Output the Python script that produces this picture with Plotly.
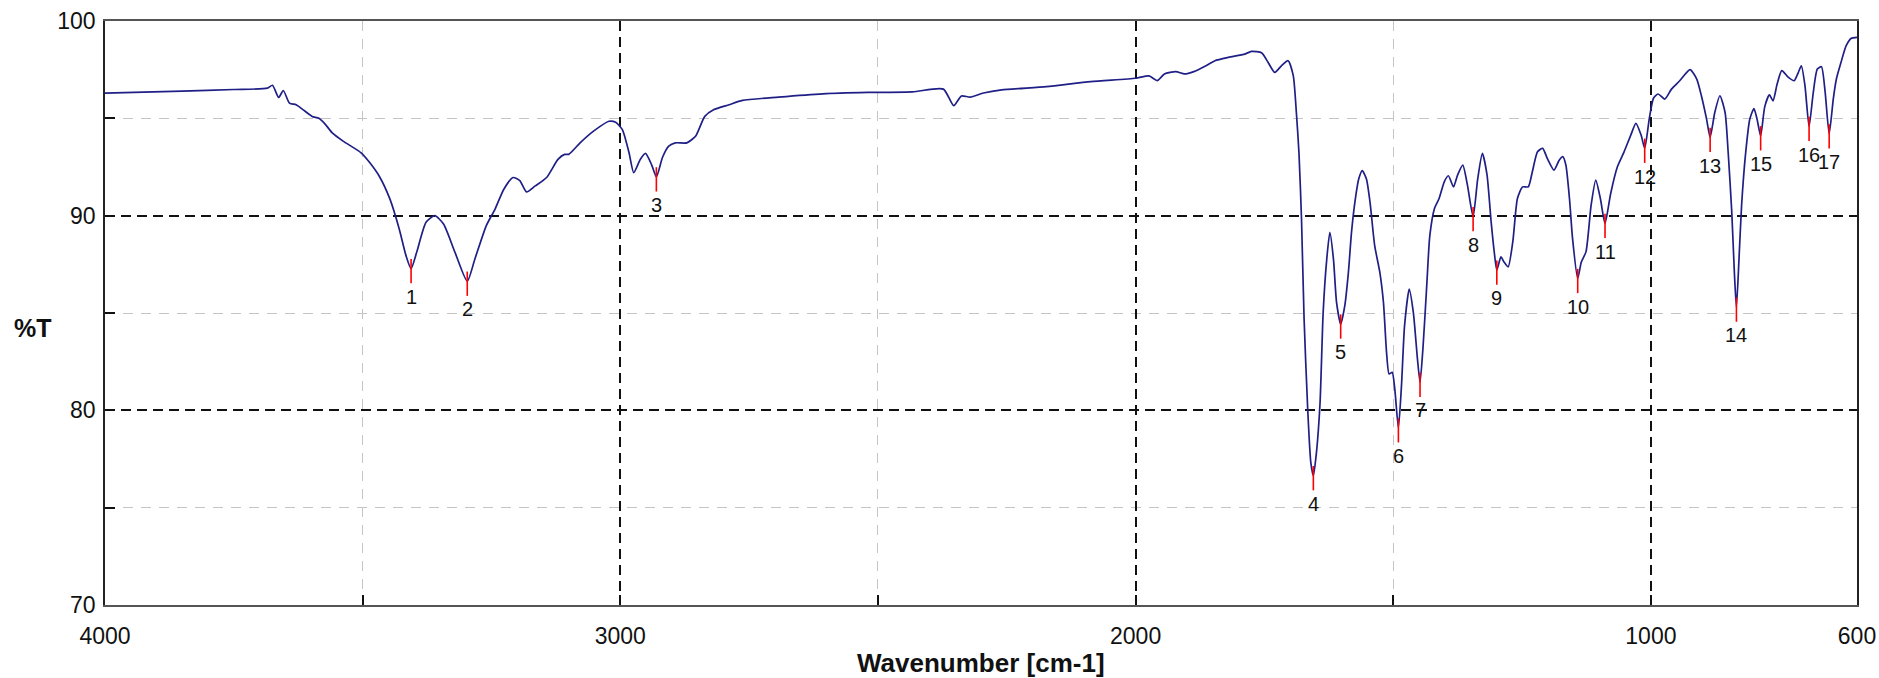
import plotly.graph_objects as go

# IR spectrum (wavenumber cm-1, %T)
wavenumber = [
    4000, 3850, 3750, 3685, 3675, 3663, 3654, 3642, 3629, 3616, 3598, 3585, 3572, 3559, 3538,
    3503, 3486, 3468, 3447, 3429, 3416, 3406, 3395, 3377, 3360, 3343, 3321, 3297, 3282, 3260,
    3243, 3226, 3208, 3195, 3182, 3165, 3143, 3121, 3108, 3100, 3078, 3052, 3022, 3009, 2996,
    2983, 2974, 2961, 2951, 2939, 2930, 2918, 2906, 2893, 2871, 2854, 2836, 2819, 2789, 2763,
    2693, 2607, 2520, 2433, 2373, 2353, 2338, 2321, 2295, 2260, 2173, 2087, 2000, 1974, 1958,
    1944, 1922, 1905, 1887, 1861, 1846, 1820, 1788, 1775, 1755, 1743, 1730, 1717, 1704, 1694,
    1688, 1683, 1678, 1673, 1666, 1660, 1655, 1649, 1642, 1636, 1629, 1623, 1616, 1610, 1602,
    1594, 1587, 1581, 1574, 1567, 1560, 1552, 1545, 1536, 1526, 1519, 1513, 1508, 1502, 1497,
    1490, 1484, 1478, 1469, 1461, 1453, 1448, 1442, 1435, 1429, 1420, 1411, 1401, 1393, 1383,
    1375, 1365, 1356, 1345, 1336, 1327, 1318, 1310, 1304, 1299, 1291, 1285, 1277, 1268, 1259,
    1249, 1238, 1230, 1220, 1210, 1201, 1188, 1178, 1171, 1165, 1158, 1152, 1142, 1135, 1126,
    1116, 1107, 1098, 1089, 1078, 1065, 1052, 1039, 1029, 1019, 1012, 1003, 995, 986, 973,
    960, 944, 924, 911, 902, 892, 885, 876, 866, 856, 850, 843, 838, 834, 829,
    824, 816, 808, 800, 794, 787, 779, 770, 763, 755, 746, 733, 722, 714, 708,
    701, 693, 685, 677, 669, 662, 654, 646, 640, 631, 621, 611, 600,
]
transmittance = [
    96.29, 96.40, 96.48, 96.55, 96.70, 96.07, 96.43, 95.78, 95.70, 95.45, 95.10, 95.00, 94.68, 94.25, 93.83,
    93.23, 92.72, 92.04, 90.85, 89.32, 87.96, 87.28, 88.13, 89.66, 90.00, 89.57, 88.13, 86.63, 87.79, 89.49,
    90.34, 91.36, 91.96, 91.80, 91.22, 91.53, 91.96, 92.89, 93.15, 93.15, 93.74, 94.34, 94.85, 94.80, 94.42,
    93.23, 92.21, 92.90, 93.20, 92.60, 91.99, 93.00, 93.57, 93.74, 93.74, 94.08, 95.10, 95.44, 95.70, 95.92,
    96.09, 96.26, 96.33, 96.36, 96.50, 95.65, 96.15, 96.09, 96.30, 96.46, 96.63, 96.89, 97.06, 97.18, 96.94,
    97.28, 97.40, 97.28, 97.40, 97.74, 97.96, 98.13, 98.30, 98.44, 98.36, 97.88, 97.36, 97.70, 97.96, 97.19,
    95.30, 93.25, 89.83, 84.69, 80.07, 77.33, 76.64, 77.84, 80.40, 85.03, 87.77, 89.14, 87.77, 85.55, 84.43,
    85.38, 87.09, 89.14, 90.77, 91.88, 92.31, 91.88, 90.68, 88.46, 87.09, 85.55, 82.98, 81.87, 81.95, 81.10,
    79.10, 81.27, 84.35, 86.23, 85.03, 82.64, 81.44, 83.32, 86.40, 88.97, 90.37, 90.88, 91.74, 92.05, 91.48,
    92.10, 92.60, 91.57, 89.95, 91.90, 93.20, 92.10, 89.68, 88.14, 87.20, 87.88, 87.62, 87.37, 88.65, 90.88,
    91.48, 91.48, 92.26, 93.28, 93.46, 92.94, 92.34, 92.85, 93.03, 92.60, 90.88, 88.82, 86.77, 87.62, 88.14,
    90.54, 91.83, 90.88, 89.60, 91.14, 92.51, 93.28, 94.14, 94.74, 94.14, 93.46, 95.00, 96.03, 96.25, 95.99,
    96.50, 96.93, 97.50, 97.02, 96.16, 94.97, 94.02, 95.30, 96.16, 95.30, 93.25, 90.17, 87.09, 85.30, 87.77,
    90.51, 93.25, 94.97, 95.50, 94.97, 94.10, 95.60, 96.20, 95.90, 96.76, 97.45, 97.10, 96.93, 97.35, 97.70,
    96.68, 94.58, 96.30, 97.53, 97.65, 96.40, 94.20, 96.00, 97.02, 97.88, 98.73, 99.11, 99.16,
]

# labelled peaks
peak_labels = [str(i) for i in range(1, 18)]
peak_wn = [3406, 3297, 2930, 1655, 1602, 1490, 1448, 1345, 1299, 1142, 1089, 1012, 885, 834, 787, 693, 654]
peak_t = [87.28, 86.63, 91.99, 76.64, 84.43, 79.10, 81.44, 89.95, 87.20, 86.77, 89.60, 93.46, 94.02, 85.30, 94.10, 94.58, 94.20]

x_ticks = [4000, 3000, 2000, 1000, 600]
x_minor = [3500, 2500, 1500]
y_ticks = [70, 80, 90, 100]
y_minor = [75, 85, 95]

FONT = "Liberation Sans, Arial, Helvetica, sans-serif"

fig = go.Figure()

fig.add_trace(go.Scatter(
    x=wavenumber, y=transmittance, mode="lines",
    line=dict(color="#1f1f86", width=1.7, shape="spline", smoothing=0.6),
    hoverinfo="x+y", showlegend=False,
))

# red peak markers
mx, my = [], []
for w, t in zip(peak_wn, peak_t):
    mx += [w, w, None]
    my += [t + 0.5, t - 0.75, None]
fig.add_trace(go.Scatter(x=mx, y=my, mode="lines", line=dict(color="#ff0000", width=1.6),
                         hoverinfo="skip", showlegend=False))

for lab, w, t in zip(peak_labels, peak_wn, peak_t):
    fig.add_annotation(x=w, y=t - 0.78, text=lab, showarrow=False, yanchor="top",
                       font=dict(family=FONT, size=20, color="#111"))

fig.add_annotation(x=-0.041, y=0.474, xref="paper", yref="paper", text="<b>%T</b>",
                   xanchor="center", yanchor="middle",
                   showarrow=False, font=dict(family=FONT, size=25, color="#111"))
fig.add_annotation(x=0.5, y=-0.099, xref="paper", yref="paper", text="<b>Wavenumber [cm-1]</b>",
                   xanchor="center", yanchor="middle",
                   showarrow=False, font=dict(family=FONT, size=26, color="#111"))

fig.update_xaxes(
    range=[4000, 600], tickvals=x_ticks, ticktext=[str(v) for v in x_ticks],
    showgrid=True, gridcolor="#111", griddash="10px,6px", gridwidth=1.5,
    ticks="inside", ticklen=10, tickcolor="#111", tickwidth=1.5,
    showline=True, linecolor="#555", linewidth=1.5, mirror=True,
    ticklabelstandoff=10, zeroline=False, automargin=False,
    tickfont=dict(family=FONT, size=23, color="#111"),
    minor=dict(tickvals=x_minor, ticks="inside", ticklen=10, tickcolor="#111",
               showgrid=True, gridcolor="#c4c4c4", griddash="10px,8px", gridwidth=1.4),
)
fig.update_yaxes(
    range=[70, 100], tickvals=y_ticks,
    showgrid=True, gridcolor="#111", griddash="10px,6px", gridwidth=1.5,
    ticks="inside", ticklen=10, tickcolor="#111", tickwidth=1.5,
    showline=True, linecolor="#222", linewidth=1.5, mirror=True,
    ticklabelstandoff=3, zeroline=False, automargin=False,
    tickfont=dict(family=FONT, size=23, color="#111"),
    minor=dict(tickvals=y_minor, ticks="inside", ticklen=10, tickcolor="#111",
               showgrid=True, gridcolor="#c4c4c4", griddash="10px,8px", gridwidth=1.4),
)

fig.update_layout(
    width=1879, height=678,
    margin=dict(l=105, r=22, t=21, b=73),
    paper_bgcolor="white", plot_bgcolor="white",
    showlegend=False,
)

# drop the browser's default 8px body margin so the figure fills the window
fig.write_html("out.html", config={"displayModeBar": False},
               post_script="document.body.style.margin='0';")
